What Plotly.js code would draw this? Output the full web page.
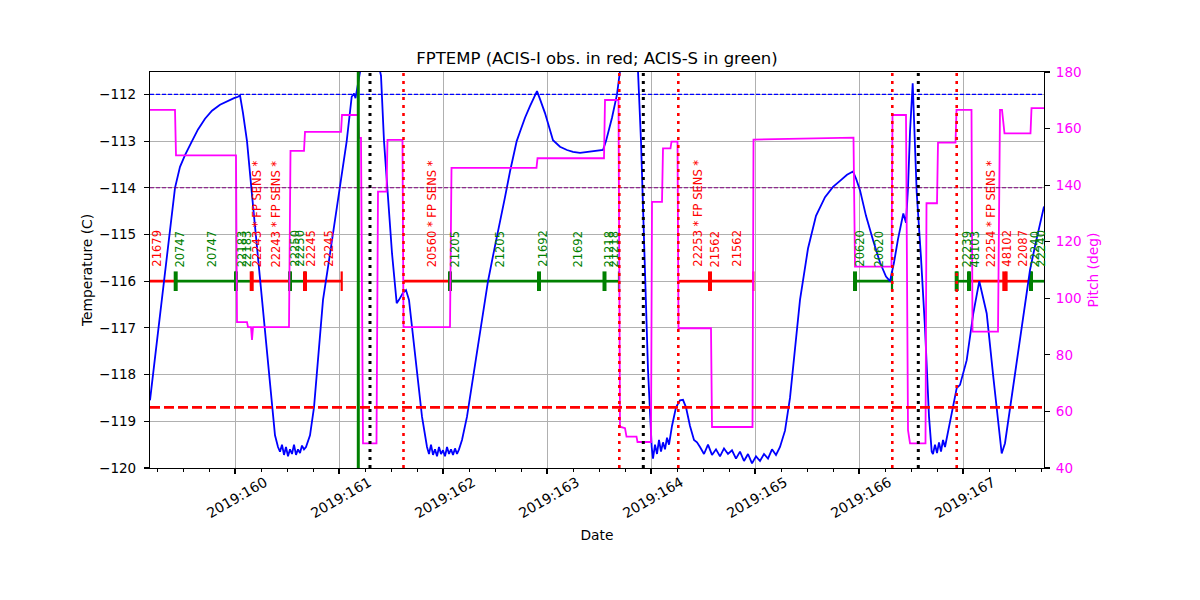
<!DOCTYPE html>
<html>
<head>
<meta charset="utf-8">
<script src="https://cdn.plot.ly/plotly-3.0.1.min.js"></script>
<style>html,body{margin:0;padding:0;background:#fff;} #chart{width:1200px;height:600px;}</style>
</head>
<body>
<div id="chart"></div>
<script>
// ---------------- DATA ----------------
// Time axis in day-of-year 2019
const tickDays = [160, 161, 162, 163, 164, 165, 166, 167];
const tickLabels = ["2019:160", "2019:161", "2019:162", "2019:163", "2019:164", "2019:165", "2019:166", "2019:167"];

// FPTEMP (deg C)
const tempTimes = [
  159.1827,159.2308,159.2788,159.3269,159.3750,159.4231,159.4712,159.5192,159.5865,159.6442,
  159.7115,159.7788,159.8558,159.9327,159.9904,160.0288,160.0481,160.0769,160.1154,160.1635,
  160.2115,160.2596,160.3077,160.3365,160.3846,160.4135,160.4327,160.4519,160.4712,160.4904,
  160.5096,160.5288,160.5481,160.5673,160.5865,160.6058,160.6250,160.6442,160.6635,160.6827,
  160.7212,160.7596,160.7981,160.8462,160.8942,160.9519,161.0096,161.0740,161.1221,161.1442,
  161.1587,161.1827,161.2115,161.2596,161.3173,161.3750,161.4038,161.4327,161.4712,161.5096,
  161.5548,161.5769,161.6154,161.6442,161.6731,161.7115,161.7596,161.7981,161.8462,161.8654,
  161.8846,161.9038,161.9231,161.9423,161.9615,161.9808,162.0000,162.0192,162.0385,162.0577,
  162.0769,162.0962,162.1154,162.1346,162.1538,162.1827,162.2308,162.2788,162.3558,162.4327,
  162.4904,162.5481,162.5962,162.6442,162.7087,162.7404,162.7885,162.8365,162.9038,162.9327,
  162.9808,163.0577,163.1250,163.1923,163.2500,163.3173,163.4135,163.5096,163.5385,163.5673,
  163.6250,163.6731,163.7019,163.7500,163.7981,163.8462,163.8750,163.9038,163.9423,163.9712,
  164.0067,164.0192,164.0385,164.0577,164.0769,164.0962,164.1154,164.1346,164.1538,164.1731,
  164.2019,164.2404,164.2788,164.3077,164.3365,164.3750,164.4135,164.4423,164.4712,164.5096,
  164.5481,164.5865,164.6250,164.6635,164.7019,164.7404,164.7788,164.8173,164.8558,164.8942,
  164.9327,164.9712,165.0096,165.0481,165.0865,165.1250,165.1635,165.2019,165.2404,165.2885,
  165.3365,165.3846,165.4327,165.5096,165.5865,165.6731,165.7500,165.8173,165.8846,165.9423,
  165.9712,166.0096,166.0673,166.1346,166.2019,166.2596,166.2981,166.3365,166.3750,166.4260,
  166.4519,166.4712,166.4904,166.5163,166.5548,166.5962,166.6346,166.6731,166.6990,166.7115,
  166.7308,166.7500,166.7692,166.7885,166.8077,166.8269,166.8462,166.8913,166.9394,166.9712,
  167.0356,167.0990,167.1567,167.2279,167.2913,167.3721,167.4038,167.4519,167.5000,167.5481,
  167.5962,167.6442,167.6923,167.7404,167.7788
];
const tempValues = [
  -118.55,-117.65,-116.75,-115.85,-114.92,-114.00,-113.55,-113.30,-113.00,-112.75,
  -112.52,-112.35,-112.22,-112.13,-112.08,-112.05,-112.02,-112.40,-113.00,-114.15,
  -115.30,-116.45,-117.55,-118.20,-119.30,-119.55,-119.65,-119.50,-119.72,-119.55,
  -119.75,-119.60,-119.70,-119.50,-119.72,-119.60,-119.68,-119.52,-119.60,-119.55,
  -119.30,-118.70,-117.70,-116.40,-115.70,-114.80,-113.96,-113.00,-112.05,-111.98,
  -112.08,-111.80,-111.40,-111.10,-111.05,-111.30,-111.60,-113.00,-114.30,-115.40,
  -116.47,-116.40,-116.25,-116.19,-116.40,-117.20,-118.20,-118.90,-119.55,-119.70,
  -119.50,-119.72,-119.60,-119.75,-119.55,-119.70,-119.62,-119.75,-119.55,-119.70,
  -119.60,-119.72,-119.58,-119.70,-119.60,-119.40,-118.90,-118.20,-117.10,-116.00,
  -115.35,-114.75,-114.20,-113.65,-113.00,-112.80,-112.50,-112.25,-111.93,-112.10,
  -112.40,-112.98,-113.12,-113.19,-113.23,-113.25,-113.23,-113.21,-113.19,-113.00,
  -112.50,-112.00,-111.50,-111.00,-110.80,-111.00,-111.50,-113.00,-116.10,-117.90,
  -119.55,-119.80,-119.50,-119.70,-119.40,-119.65,-119.45,-119.60,-119.35,-119.50,
  -119.10,-118.70,-118.55,-118.54,-118.70,-119.10,-119.40,-119.45,-119.55,-119.70,
  -119.50,-119.72,-119.60,-119.75,-119.58,-119.70,-119.62,-119.80,-119.65,-119.85,
  -119.70,-119.90,-119.75,-119.85,-119.70,-119.80,-119.60,-119.72,-119.55,-119.20,
  -118.50,-117.50,-116.40,-115.30,-114.60,-114.20,-113.98,-113.85,-113.72,-113.65,
  -113.80,-114.05,-114.60,-115.12,-115.60,-115.90,-116.00,-115.60,-115.10,-114.55,
  -114.75,-114.00,-112.80,-111.76,-114.10,-115.50,-117.00,-118.90,-119.65,-119.70,
  -119.50,-119.68,-119.45,-119.65,-119.40,-119.55,-119.35,-118.83,-118.29,-118.22,
  -117.69,-116.69,-116.00,-116.69,-118.05,-119.69,-119.47,-118.73,-117.99,-117.24,
  -116.50,-115.76,-115.25,-114.80,-114.40
];

// Pitch (deg)
const pitchTimes = [
  159.1827,159.4231,159.4327,160.0096,160.0192,160.1154,160.1250,160.1538,160.1635,160.1731,
  160.5192,160.5337,160.6635,160.6731,161.0192,161.0288,161.1827,161.1923,161.2115,161.2308,
  161.3606,161.3750,161.4567,161.4663,161.6106,161.6202,162.0673,162.0817,162.8990,162.9087,
  163.5481,163.5577,163.6875,163.7019,163.7500,163.7644,163.8606,163.8702,164.0000,164.0096,
  164.1058,164.1154,164.1875,164.1971,164.2548,164.2644,164.5769,164.5865,164.9760,164.9856,
  165.9471,165.9615,166.3125,166.3221,166.4519,166.4712,166.4904,166.6394,166.6490,166.7500,
  166.7596,166.9279,166.9375,167.0817,167.0913,167.3365,167.3558,167.3750,167.3990,167.6490,
  167.6587,167.7788
];
const pitchValues = [
  166.6,166.6,150.5,150.5,91.6,91.6,89.8,89.8,85.3,89.8,
  89.8,152.1,152.1,158.8,158.8,164.8,164.8,156.7,156.7,48.7,
  48.7,137.7,137.7,156.0,156.0,89.8,89.8,146.1,146.1,149.5,
  149.5,170.1,170.1,54.6,54.1,51.1,51.1,49.2,49.2,134.1,
  134.1,153.0,153.0,155.4,155.4,89.4,89.4,54.5,54.5,156.1,
  156.8,111.2,111.2,164.8,164.8,53.4,48.7,48.7,133.6,133.6,
  155.0,155.0,166.6,166.6,88.2,88.2,166.6,166.6,158.3,158.3,
  167.2,167.2
];

// Observations (ACIS-I = "I" red, ACIS-S = "S" green), drawn at -116 C
const obsIds   = ["21679","20747","22183","22243","22250","22245","20560","21205","21692","21218","22253","21562","20620","22239","48103","22254","48102","22087","22240"];
const obsInstr = ["I","S","S","I","S","I","I","S","S","S","I","I","S","S","S","I","I","I","S"];
const obsStart = [159.10,159.4298,160.0096,160.1606,160.5288,160.6731,161.6250,162.0673,162.9231,163.5529,164.2625,164.5673,165.9615,166.9394,167.0577,167.0769,167.3971,167.4183,167.6538];
const obsEnd   = [159.4298,160.0096,160.1606,160.5288,160.6731,161.0260,162.0673,162.9231,163.5529,163.6923,164.5673,164.9837,166.3173,167.0577,167.0769,167.3971,167.4183,167.6538,167.90];
const obsLevel = -116;
// start-of-observation tick marks (obs whose start was not flagged have none)
const startMarkTimes = [159.4298,160.0096,160.1606,160.5288,160.6731,162.0673,162.9231,163.5529,164.5673,165.9615,166.9394,167.0577,167.3971,167.6538];
const startMarkInstr = ["S","S","I","S","I","S","S","S","I","S","S","S","I","S"];
const endMarkTimes   = [160.0096,160.1606,160.5288,160.6731,161.0260,162.0673,163.6923,164.9837,166.3173,166.9394,167.0577,167.4183,167.6538];
const endMarkInstr   = ["S","S","S","S","I","S","S","I","S","S","S","I","S"];

// Obsid labels
const labelTimes = [159.250,159.471,159.776,160.064,160.112,160.209,160.394,160.577,160.625,160.731,160.904,161.891,162.115,162.548,162.962,163.298,163.596,163.644,164.452,164.615,164.827,166.010,166.192,167.038,167.115,167.266,167.423,167.577,167.692,167.750];
const labelTexts = ["21679","20747","20747","22183","22183","22243 * FP SENS *","22243 * FP SENS *","22250","22250","22245","22245","20560 * FP SENS *","21205","21205","21692","21692","21218","21218","22253 * FP SENS *","21562","21562","20620","20620","22239","48103","22254 * FP SENS *","48102","22087","22240","22240"];
const labelInstr = ["I","S","S","S","S","I","I","S","S","I","I","I","S","S","S","S","S","S","I","I","I","S","S","S","S","I","I","I","S","S"];
const labelLevel = -115.72;

// Event lines
const greenLineTimes = [161.1856];
const blackDotTimes = [161.2981, 163.9260, 166.5702];
const redDotTimes = [161.6202, 163.6952, 164.2625, 166.3202, 166.9394];
const planningLimit = -112.0;
const acisILimit = -114.0;
const lowLimit = -118.7;

const xRange = [159.1827, 167.7788];
const yRange = [-120, -111.52];
const y2Range = [40, 180];

// ---------------- PLOT ----------------
const instrColor = {I: "#ff0000", S: "#008000"};
const FONT = "DejaVu Sans, Liberation Sans, sans-serif";

const traces = [];
for (let i = 0; i < obsIds.length; i++) {
  traces.push({
    x: [obsStart[i], obsEnd[i]], y: [obsLevel, obsLevel],
    mode: "lines", line: {color: instrColor[obsInstr[i]], width: 2.7},
    hoverinfo: "skip", showlegend: false, xaxis: "x", yaxis: "y"
  });
}
traces.push({
  x: endMarkTimes, y: endMarkTimes.map(() => obsLevel), mode: "markers",
  marker: {symbol: "line-ns-open", size: 14, color: endMarkInstr.map(k => instrColor[k]),
    line: {width: 2.2, color: endMarkInstr.map(k => instrColor[k])}},
  hoverinfo: "skip", showlegend: false
});
traces.push({
  x: startMarkTimes, y: startMarkTimes.map(() => obsLevel), mode: "markers",
  marker: {symbol: "line-ns-open", size: 14, color: startMarkInstr.map(k => instrColor[k]),
    line: {width: 4, color: startMarkInstr.map(k => instrColor[k])}},
  hoverinfo: "skip", showlegend: false
});
traces.push({
  x: tempTimes, y: tempValues, mode: "lines",
  line: {color: "#0000ff", width: 1.8}, showlegend: false, name: "FPTEMP"
});
traces.push({
  x: pitchTimes, y: pitchValues, mode: "lines", yaxis: "y2",
  line: {color: "#ff00ff", width: 1.8}, showlegend: false, name: "Pitch"
});

const shapes = [];
[[planningLimit, "#0000ff", 1.1, "4px,2px"], [acisILimit, "#800080", 1.1, "4px,2px"], [lowLimit, "#ff0000", 2.8, "10px,4px"]].forEach(h => {
  shapes.push({type: "line", xref: "paper", x0: 0, x1: 1, yref: "y", y0: h[0], y1: h[0],
    line: {color: h[1], width: h[2], dash: h[3]}, layer: "above"});
});
greenLineTimes.forEach(t => shapes.push({type: "line", xref: "x", x0: t, x1: t, yref: "paper", y0: 0, y1: 1,
  line: {color: "#008000", width: 3}, layer: "above"}));
blackDotTimes.forEach(t => shapes.push({type: "line", xref: "x", x0: t, x1: t, yref: "paper", y0: 0, y1: 1,
  line: {color: "#000000", width: 3, dash: "3px,5px"}, layer: "above"}));
redDotTimes.forEach(t => shapes.push({type: "line", xref: "x", x0: t, x1: t, yref: "paper", y0: 0, y1: 1,
  line: {color: "#ff0000", width: 2.6, dash: "3px,5px"}, layer: "above"}));

const annotations = labelTimes.map((t, i) => ({
  x: t, y: labelLevel, xref: "x", yref: "y", text: labelTexts[i], showarrow: false,
  textangle: -90, xanchor: "center", yanchor: "bottom", borderpad: 0,
  font: {family: FONT, size: 11.5, color: instrColor[labelInstr[i]]}
}));

const layout = {
  width: 1200, height: 600,
  margin: {l: 150, r: 156, t: 72, b: 132},
  paper_bgcolor: "#ffffff", plot_bgcolor: "#ffffff",
  font: {family: FONT, size: 13, color: "#000"},
  title: {text: "FPTEMP (ACIS-I obs. in red; ACIS-S in green)", font: {size: 16.5, family: FONT},
    x: 0.5, xref: "paper", xanchor: "center", y: 1 - 58/600, yref: "container", yanchor: "middle"},
  xaxis: {
    range: xRange, tickmode: "array", tickvals: tickDays, ticktext: tickLabels, tickangle: -30,
    tickfont: {size: 14}, ticklabelshift: 30, ticklabelstandoff: -5,
    showgrid: true, gridcolor: "#b0b0b0", gridwidth: 1, zeroline: false,
    showline: true, linecolor: "#000", linewidth: 1.1, mirror: true,
    ticks: "outside", ticklen: 5, tickwidth: 1.1, tickcolor: "#000",
    minor: {tick0: 160, dtick: 0.25, ticks: "outside", ticklen: 3, tickwidth: 1, tickcolor: "#000", showgrid: false},
    title: {text: "Date", font: {size: 13.8}, standoff: 10}, automargin: false
  },
  yaxis: {
    range: yRange, tickmode: "linear", tick0: -120, dtick: 1,
    tickfont: {size: 13.5}, ticklabelstandoff: 5,
    showgrid: true, gridcolor: "#b0b0b0", gridwidth: 1, zeroline: false,
    showline: true, linecolor: "#000", linewidth: 1.1, mirror: true,
    ticks: "outside", ticklen: 5, tickwidth: 1.1, tickcolor: "#000",
    title: {text: "Temperature (C)", font: {size: 13.8}, standoff: 3}, automargin: false
  },
  yaxis2: {
    range: y2Range, overlaying: "y", side: "right", anchor: "x",
    tickmode: "linear", tick0: 40, dtick: 20, showgrid: false, zeroline: false,
    showline: true, linecolor: "#000", linewidth: 1.1,
    ticks: "outside", ticklen: 5, tickwidth: 1.1, tickcolor: "#000",
    tickfont: {color: "#ff00ff", size: 13.5}, ticklabelstandoff: 3,
    title: {text: "Pitch (deg)", font: {size: 13.8, color: "#ff00ff"}, standoff: 7}, automargin: false
  },
  shapes: shapes,
  annotations: annotations,
  showlegend: false
};

Plotly.newPlot("chart", traces, layout, {displayModeBar: false, staticPlot: true});
</script>
</body>
</html>
